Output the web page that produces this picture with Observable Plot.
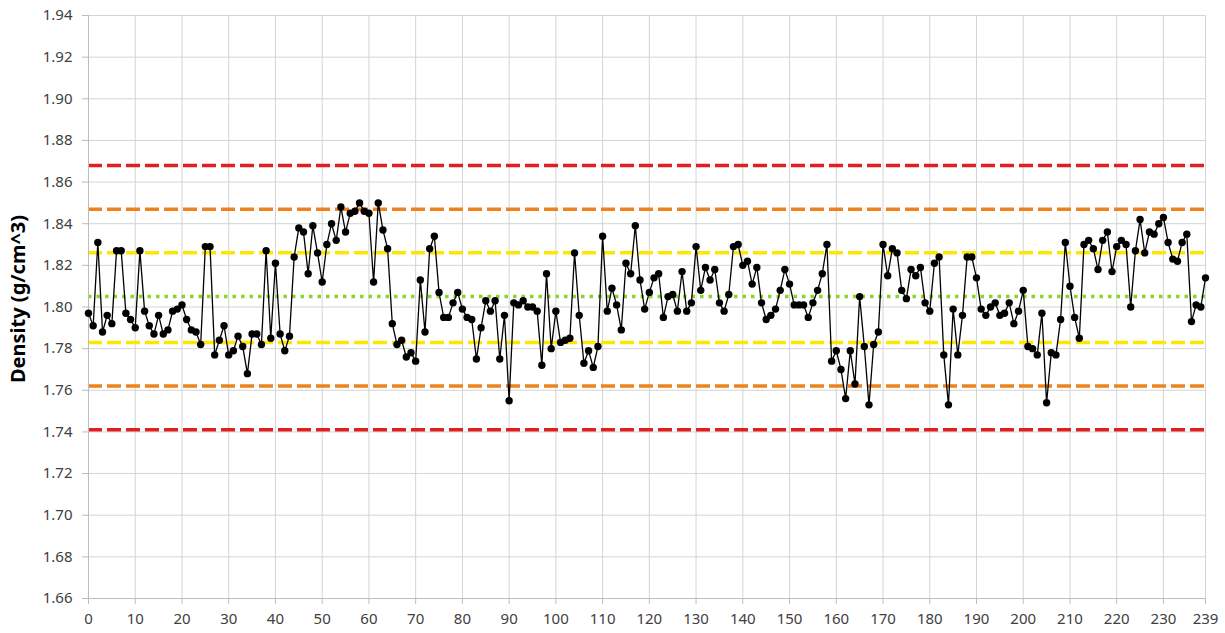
<!DOCTYPE html>
<html>
<head>
<meta charset="utf-8">
<script src="https://cdn.jsdelivr.net/npm/d3@7"></script>
<script src="https://cdn.jsdelivr.net/npm/@observablehq/plot@0.6"></script>
<style>
  html, body { margin: 0; padding: 0; background: #fff; }
  #chart svg { display: block; }
</style>
</head>
<body>
<div id="chart"></div>
<script>
// Density readings, sample index 0..239
const density = [
  1.797, 1.791, 1.831, 1.788, 1.796, 1.792, 1.827, 1.827, 1.797, 1.794,
  1.790, 1.827, 1.798, 1.791, 1.787, 1.796, 1.787, 1.789, 1.798, 1.799,
  1.801, 1.794, 1.789, 1.788, 1.782, 1.829, 1.829, 1.777, 1.784, 1.791,
  1.777, 1.779, 1.786, 1.781, 1.768, 1.787, 1.787, 1.782, 1.827, 1.785,
  1.821, 1.787, 1.779, 1.786, 1.824, 1.838, 1.836, 1.816, 1.839, 1.826,
  1.812, 1.830, 1.840, 1.832, 1.848, 1.836, 1.845, 1.846, 1.850, 1.846,
  1.845, 1.812, 1.850, 1.837, 1.828, 1.792, 1.782, 1.784, 1.776, 1.778,
  1.774, 1.813, 1.788, 1.828, 1.834, 1.807, 1.795, 1.795, 1.802, 1.807,
  1.799, 1.795, 1.794, 1.775, 1.790, 1.803, 1.798, 1.803, 1.775, 1.796,
  1.755, 1.802, 1.801, 1.803, 1.800, 1.800, 1.798, 1.772, 1.816, 1.780,
  1.798, 1.783, 1.784, 1.785, 1.826, 1.796, 1.773, 1.779, 1.771, 1.781,
  1.834, 1.798, 1.809, 1.801, 1.789, 1.821, 1.816, 1.839, 1.813, 1.799,
  1.807, 1.814, 1.816, 1.795, 1.805, 1.806, 1.798, 1.817, 1.798, 1.802,
  1.829, 1.808, 1.819, 1.813, 1.818, 1.802, 1.798, 1.806, 1.829, 1.830,
  1.820, 1.822, 1.811, 1.819, 1.802, 1.794, 1.796, 1.799, 1.808, 1.818,
  1.811, 1.801, 1.801, 1.801, 1.795, 1.802, 1.808, 1.816, 1.830, 1.774,
  1.779, 1.770, 1.756, 1.779, 1.763, 1.805, 1.781, 1.753, 1.782, 1.788,
  1.830, 1.815, 1.828, 1.826, 1.808, 1.804, 1.818, 1.815, 1.819, 1.802,
  1.798, 1.821, 1.824, 1.777, 1.753, 1.799, 1.777, 1.796, 1.824, 1.824,
  1.814, 1.799, 1.796, 1.800, 1.802, 1.796, 1.797, 1.802, 1.792, 1.798,
  1.808, 1.781, 1.780, 1.777, 1.797, 1.754, 1.778, 1.777, 1.794, 1.831,
  1.810, 1.795, 1.785, 1.830, 1.832, 1.828, 1.818, 1.832, 1.836, 1.817,
  1.829, 1.832, 1.830, 1.800, 1.827, 1.842, 1.826, 1.836, 1.835, 1.840,
  1.843, 1.831, 1.823, 1.822, 1.831, 1.835, 1.793, 1.801, 1.800, 1.814
];

// Control limits
const centerLine = [1.805];
const oneSigma = [1.826, 1.783];
const twoSigma = [1.847, 1.762];
const threeSigma = [1.868, 1.741];

// Tick labels
const xTicks = [0, 10, 20, 30, 40, 50, 60, 70, 80, 90, 100, 110, 120, 130, 140, 150,
                160, 170, 180, 190, 200, 210, 220, 230, 239];
const yTicks = [1.66, 1.68, 1.70, 1.72, 1.74, 1.76, 1.78, 1.80, 1.82, 1.84, 1.86, 1.88, 1.90, 1.92, 1.94];

const yLabel = "Density (g/cm^3)";

const data = density.map((v, i) => ({i, v}));

const gridColor = "#d4d4d4";

const chart = Plot.plot({
  width: 1225,
  height: 633,
  marginLeft: 88,
  marginRight: 20,
  marginTop: 15,
  marginBottom: 35,
  style: {fontFamily: "Noto Sans", fontSize: "15px", color: "#404040", background: "#fff"},
  x: {domain: [0, 239]},
  y: {domain: [1.66, 1.94]},
  marks: [
    Plot.gridX(xTicks, {stroke: gridColor, strokeOpacity: 1}),
    Plot.gridY(yTicks, {stroke: gridColor, strokeOpacity: 1}),
    Plot.ruleY(threeSigma, {stroke: "#e02020", strokeWidth: 3.5, strokeDasharray: "14,5"}),
    Plot.ruleY(twoSigma, {stroke: "#f0821e", strokeWidth: 3.5, strokeDasharray: "14,5"}),
    Plot.ruleY(oneSigma, {stroke: "#ffe600", strokeWidth: 3.5, strokeDasharray: "14,5"}),
    Plot.ruleY(centerLine, {stroke: "#86d52a", strokeWidth: 3.5, strokeDasharray: "3.5,5"}),
    Plot.axisX({ticks: xTicks, tickSize: 6, tickPadding: 9, stroke: "#bdbdbd", label: null, fill: "#404040"}),
    Plot.axisY({ticks: yTicks, tickSize: 6, tickPadding: 10, tickFormat: d3.format(".2f"), stroke: "#bdbdbd", label: null, fill: "#404040"}),
    Plot.ruleX([0], {stroke: "#bdbdbd"}),
    Plot.ruleY([1.66], {stroke: "#bdbdbd"}),
    Plot.line(data, {x: "i", y: "v", stroke: "#000", strokeWidth: 1.3}),
    Plot.dot(data, {x: "i", y: "v", r: 3.7, fill: "#000", stroke: "none"}),
    Plot.text([yLabel], {
      frameAnchor: "left", text: d => d, rotate: -90, dx: -70, dy: -8,
      fontWeight: "bold", fontSize: 20, fill: "#000", textAnchor: "middle"
    })
  ]
});

document.getElementById("chart").appendChild(chart);
</script>
</body>
</html>
